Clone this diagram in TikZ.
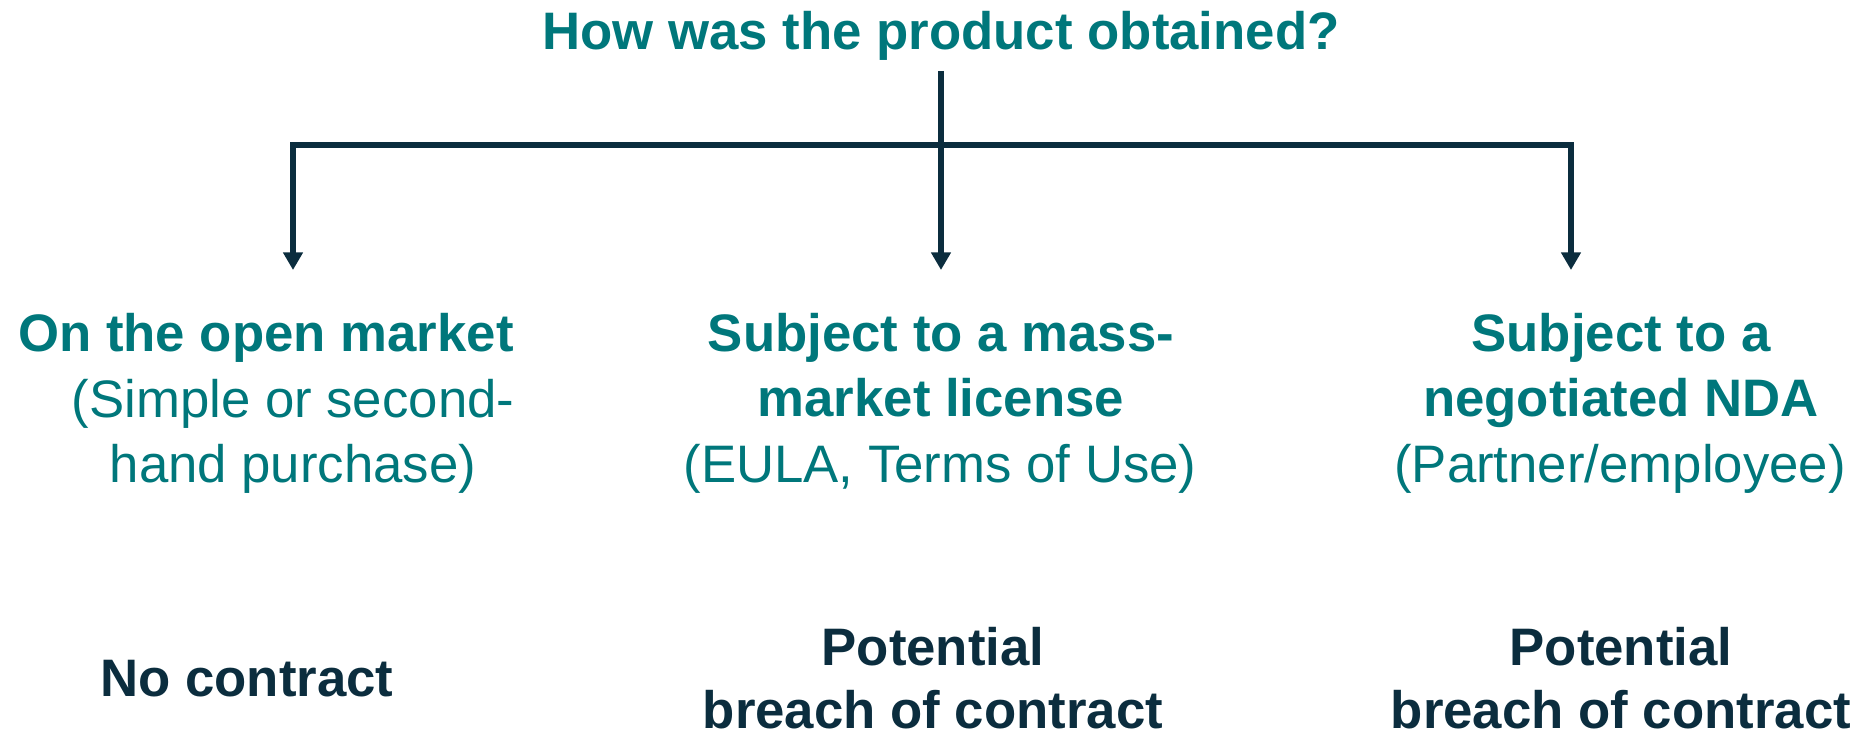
\documentclass[tikz,border=0pt]{standalone}
\usepackage{fontspec}
\setmainfont{Liberation Sans}
\usetikzlibrary{arrows.meta}

\definecolor{tealText}{HTML}{00777B}
\definecolor{navyLine}{HTML}{0B2D3E}

\tikzset{
	conn/.style={draw=navyLine, line width=1.6pt, line join=miter},
	tip/.style={-{Triangle[width=5.4pt,length=5pt]}},
	txt/.style={inner sep=0pt, anchor=base, align=center, font=\fontsize{15}{18.5}\selectfont},
	head/.style={txt, text=tealText, font=\fontsize{15}{18.5}\selectfont\bfseries},
	sub/.style={txt, text=tealText},
	verdict/.style={txt, text=navyLine, font=\fontsize{15}{18}\selectfont\bfseries}
}

\begin{document}
\begin{tikzpicture}[x=0.01cm, y=-0.01cm]
	\useasboundingbox (0,0) rectangle (1865,734);   % page size
	
	% question
	\node[head] (question) at (941,50) {How was the product obtained?};
	
	% branch points
	\coordinate (qfoot) at (941,71);
	\coordinate (split) at (941,145);
	\coordinate (tipL) at (293,270);
	\coordinate (tipM) at (941,270);
	\coordinate (tipR) at (1571,270);
	
	% tree lines
	\draw[conn,tip] (split) -| (tipL);
	\draw[conn,tip] (split) -| (tipR);
	\draw[conn,tip] (qfoot) -- (tipM);
	
	% left branch (base = last line)
	\node[head] (openHead) at (266,352) {On the open market};
	\node[sub] (openSub) at (293,483) {(Simple or second-\\hand purchase)};
	
	% middle branch
	\node[head] (massHead) at (941,417) {Subject to a mass-\\market license};
	\node[sub] (massSub) at (940,483) {(EULA, Terms of Use)};
	
	% right branch
	\node[head] (ndaHead) at (1621,417) {Subject to a\\negotiated NDA};
	\node[sub] (ndaSub) at (1620,483) {(Partner/employee)};
	
	% outcomes
	\node[verdict] (noContract) at (247,697) {No contract};
	\node[verdict] (breachM) at (933,729) {Potential\\breach of contract};
	\node[verdict] (breachR) at (1621,729) {Potential\\breach of contract};
\end{tikzpicture}
\end{document}
